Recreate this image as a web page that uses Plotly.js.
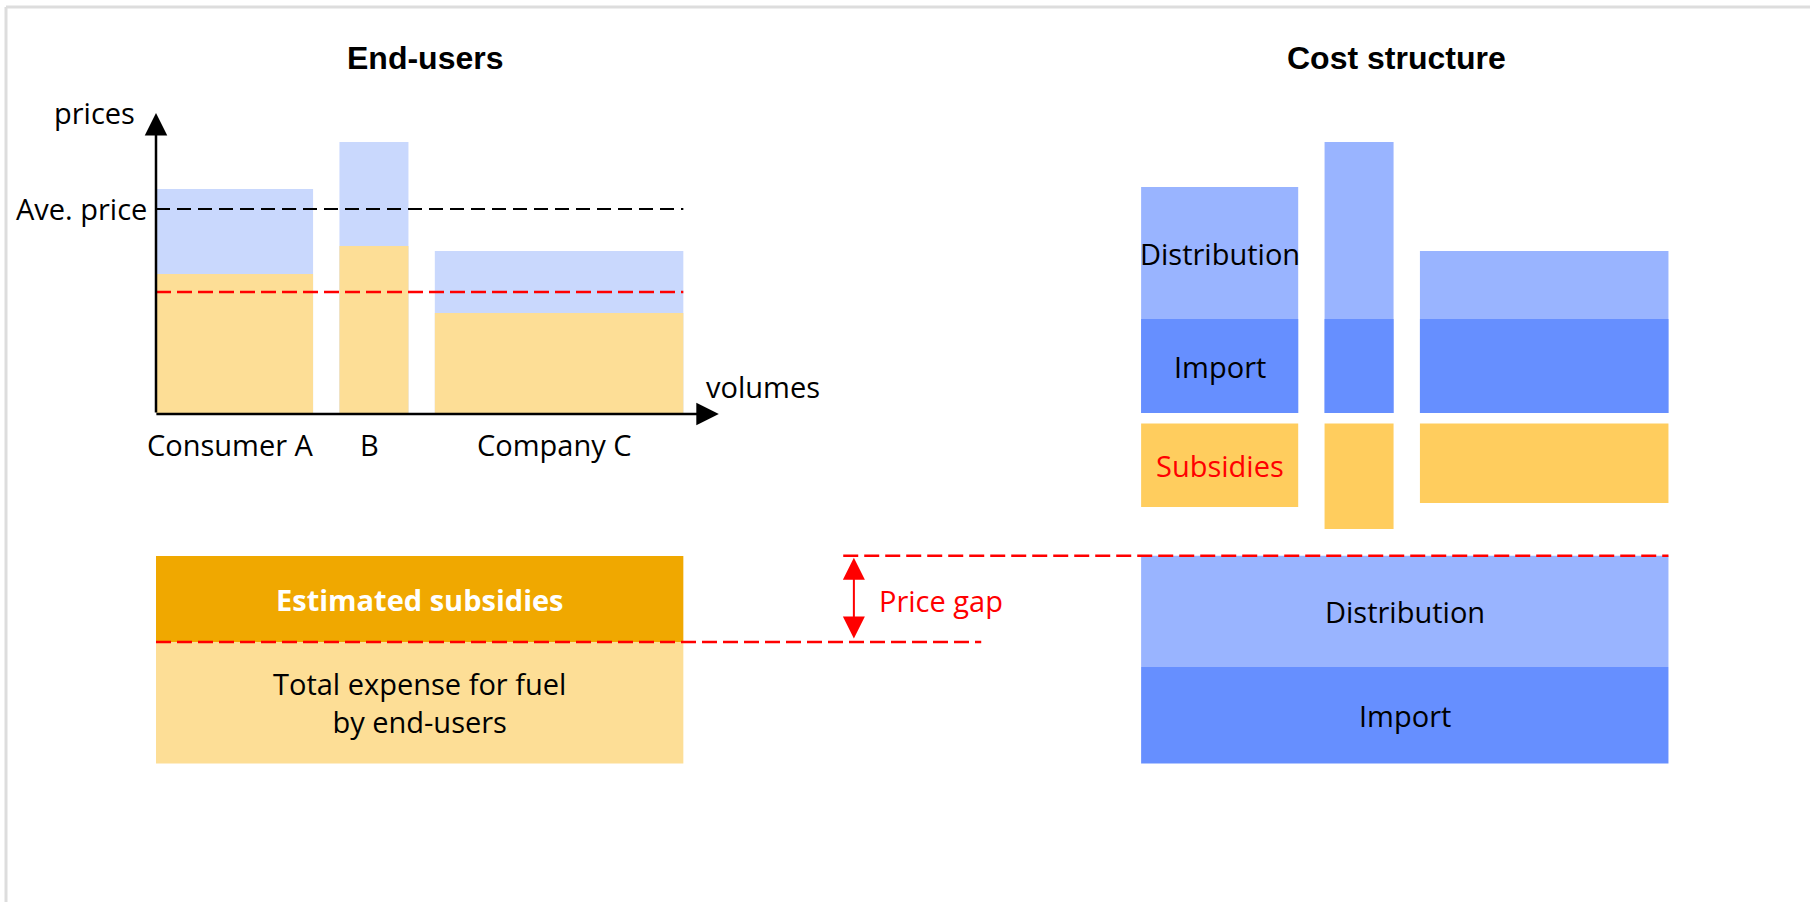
<!DOCTYPE html>
<html>
<head>
<meta charset="utf-8">
<script src="https://cdn.plot.ly/plotly-3.0.1.min.js"></script>
<style>
html,body{margin:0;padding:0;background:#fff;}
#chart{width:1810px;height:902px;}
</style>
</head>
<body>
<div id="chart"></div>
<script>
// ---------- data ----------
const segments = ['Consumer A', 'B', 'Company C'];
const volumes = [28, 12.3, 44.3];            // widths of end-user segments
const endUserPrice = [74.4, 90.0, 53.8];     // full price (blue top)
const paidPrice = [46.2, 55.5, 33.2];        // price actually paid (orange)
const avePrice = 67.8;                       // black dashed line
const avePaidPrice = 40.2;                   // red dashed line
const importCost = [31.2, 31.2, 31.2];
const costTotal = [75.1, 90.0, 53.8];        // import + distribution
const subsidies = [27.7, 35.0, 26.4];
const totalExpense = 54.2;
const estimatedSubsidies = 38.4;
const totalImport = 43.1;
const totalDistribution = 49.6;

// ---------- layout constants ----------
const W = 1810, H = 902;
const PXX = 5.61;            // px per volume unit
const PXY = 3.01;            // px per price unit (top)
const PXY2 = 2.24;           // px per unit (bottom aggregates)
const ORIGIN_X = 156, BASE_Y = 413, BASE_Y2 = 763.5;
const GAP = 4.7;
const COST_OFFSET = 175.6;
const SUB_GAP = 3.5;

const C = {
  gapBlue: '#C9D8FD', paleOrange: '#FDDE96', dist: '#99B4FF', imp: '#668FFF',
  sub: '#FFCD5E', darkOrange: '#F0A800', red: '#FF0000'
};
const FONT = 'Open Sans, Noto Sans, sans-serif';
const TITLE_FONT = 'Liberation Sans, Arial, sans-serif';

function startsFrom(offset) {
  let s = offset; const out = [];
  volumes.forEach(v => { out.push(s); s += v + GAP; });
  return out;
}
const leftStarts = startsFrom(0);
const leftCenters = leftStarts.map((s, i) => s + volumes[i] / 2);
const costStarts = startsFrom(COST_OFFSET);
const costCenters = costStarts.map((s, i) => s + volumes[i] / 2);
const span = volumes.reduce((a, b) => a + b, 0) + GAP * (volumes.length - 1);

function bar(x, y, base, color, yaxis) {
  return {
    type: 'bar', x: x, y: y, base: base, width: volumes.slice(0, x.length),
    marker: {color: color, line: {width: 0}}, xaxis: 'x', yaxis: yaxis || 'y',
    hoverinfo: 'skip'
  };
}

const traces = [
  // end-users
  bar(leftCenters, endUserPrice, 0, C.gapBlue),
  bar(leftCenters, paidPrice, 0, C.paleOrange),
  // cost structure
  bar(costCenters, costTotal, 0, C.dist),
  bar(costCenters, importCost, 0, C.imp),
  bar(costCenters, subsidies.map(v => -v), -SUB_GAP, C.sub),
  // aggregates
  {type: 'bar', x: [span / 2], y: [totalExpense], base: 0, width: [span],
   marker: {color: C.paleOrange, line: {width: 0}}, xaxis: 'x', yaxis: 'y2', hoverinfo: 'skip'},
  {type: 'bar', x: [span / 2], y: [estimatedSubsidies], base: totalExpense, width: [span],
   marker: {color: C.darkOrange, line: {width: 0}}, xaxis: 'x', yaxis: 'y2', hoverinfo: 'skip'},
  {type: 'bar', x: [COST_OFFSET + span / 2], y: [totalImport], base: 0, width: [span],
   marker: {color: C.imp, line: {width: 0}}, xaxis: 'x', yaxis: 'y2', hoverinfo: 'skip'},
  {type: 'bar', x: [COST_OFFSET + span / 2], y: [totalDistribution], base: totalImport, width: [span],
   marker: {color: C.dist, line: {width: 0}}, xaxis: 'x', yaxis: 'y2', hoverinfo: 'skip'}
];

const ARROW_X = 124.4;
const shapes = [
  // frame
  {type: 'line', xref: 'paper', yref: 'paper', x0: 6 / W, x1: 1, y0: 1 - 7 / H, y1: 1 - 7 / H,
   line: {color: '#DDDDDD', width: 3}},
  {type: 'line', xref: 'paper', yref: 'paper', x0: 6 / W, x1: 6 / W, y0: 0, y1: 1 - 7 / H,
   line: {color: '#DDDDDD', width: 3}},
  // average price
  {type: 'line', xref: 'x', yref: 'y', x0: 0, x1: span, y0: avePrice, y1: avePrice, layer: 'above',
   line: {color: '#000000', width: 2, dash: '14px,7px'}},
  {type: 'line', xref: 'x', yref: 'y', x0: 0, x1: span, y0: avePaidPrice, y1: avePaidPrice, layer: 'above',
   line: {color: C.red, width: 2.5, dash: '15px,6px'}},
  // price gap lines
  {type: 'line', xref: 'x', yref: 'y2', x0: 0, x1: 147.1, y0: totalExpense, y1: totalExpense, layer: 'above',
   line: {color: C.red, width: 2.5, dash: '15px,6px'}},
  {type: 'line', xref: 'x', yref: 'y2', x0: 122.5, x1: COST_OFFSET + span,
   y0: totalImport + totalDistribution, y1: totalImport + totalDistribution, layer: 'above',
   line: {color: C.red, width: 2.5, dash: '15px,6px'}}
];

function txt(x, y, text, opts) {
  opts = opts || {};
  return Object.assign({
    x: x, y: y, xref: 'x', yref: 'y', text: text, showarrow: false,
    xanchor: 'center', yanchor: 'middle',
    font: {family: FONT, size: 29, color: '#000000'}
  }, opts);
}

const annotations = [
  txt(48, 117.9, 'End-users', {font: {family: TITLE_FONT, size: 32, color: '#000', weight: 'bold'}}),
  txt(221.2, 117.9, 'Cost structure', {font: {family: TITLE_FONT, size: 32, color: '#000', weight: 'bold'}}),
  txt(-10.9, 100, 'prices'),
  txt(-1.2, avePrice, 'Ave. price', {xanchor: 'right'}),
  txt(97.7, 8.8, 'volumes', {xanchor: 'left'}),
  txt(costCenters[0], (importCost[0] + costTotal[0]) / 2, 'Distribution'),
  txt(costCenters[0], importCost[0] / 2, 'Import'),
  txt(costCenters[0], -SUB_GAP - subsidies[0] / 2, 'Subsidies', {font: {family: FONT, size: 29, color: C.red}}),
  txt(span / 2, totalExpense + estimatedSubsidies / 2, 'Estimated subsidies',
      {yref: 'y2', font: {family: FONT, size: 29, color: '#FFFFFF', weight: 'bold'}}),
  txt(span / 2, totalExpense / 2, 'Total expense for fuel<br>by end-users', {yref: 'y2'}),
  txt(128.5, 72.8, 'Price gap', {yref: 'y2', xanchor: 'left', font: {family: FONT, size: 29, color: C.red}}),
  txt(COST_OFFSET + span / 2, totalImport + totalDistribution / 2, 'Distribution', {yref: 'y2'}),
  txt(COST_OFFSET + span / 2, totalImport / 2, 'Import', {yref: 'y2'}),
  // axes arrows
  {x: 0, y: 100, ax: 0, ay: -0.3, xref: 'x', yref: 'y', axref: 'x', ayref: 'y', text: '',
   showarrow: true, arrowhead: 2, arrowsize: 1.8, arrowwidth: 2.5, arrowcolor: '#000', standoff: 1},
  {x: 100.5, y: -0.3, ax: -0.2, ay: -0.3, xref: 'x', yref: 'y', axref: 'x', ayref: 'y', text: '',
   showarrow: true, arrowhead: 2, arrowsize: 1.8, arrowwidth: 2.5, arrowcolor: '#000', standoff: 1},
  // price gap double arrow
  {x: ARROW_X, y: totalImport + totalDistribution, ax: ARROW_X, ay: totalExpense,
   xref: 'x', yref: 'y2', axref: 'x', ayref: 'y2', text: '', showarrow: true,
   arrowside: 'end+start', arrowhead: 2, startarrowhead: 2, arrowsize: 2.2, startarrowsize: 2.2,
   arrowwidth: 2, arrowcolor: C.red, standoff: 2, startstandoff: 2}
];
segments.forEach((s, i) => annotations.push(txt(leftCenters[i] - 0.8, -10.3, s)));

const layout = {
  width: W, height: H, margin: {l: 0, r: 0, t: 0, b: 0, pad: 0},
  paper_bgcolor: '#FFFFFF', plot_bgcolor: '#FFFFFF',
  showlegend: false, barmode: 'overlay',
  font: {family: FONT, color: '#000'},
  xaxis: {domain: [0, 1], range: [-ORIGIN_X / PXX, (W - ORIGIN_X) / PXX], visible: false, fixedrange: true},
  yaxis: {domain: [0, 1], range: [-(H - BASE_Y) / PXY, BASE_Y / PXY], visible: false, fixedrange: true},
  yaxis2: {domain: [0, 1], overlaying: 'y', range: [-(H - BASE_Y2) / PXY2, BASE_Y2 / PXY2], visible: false, fixedrange: true},
  shapes: shapes,
  annotations: annotations
};

Plotly.newPlot('chart', traces, layout, {staticPlot: true, displayModeBar: false});
</script>
</body>
</html>
